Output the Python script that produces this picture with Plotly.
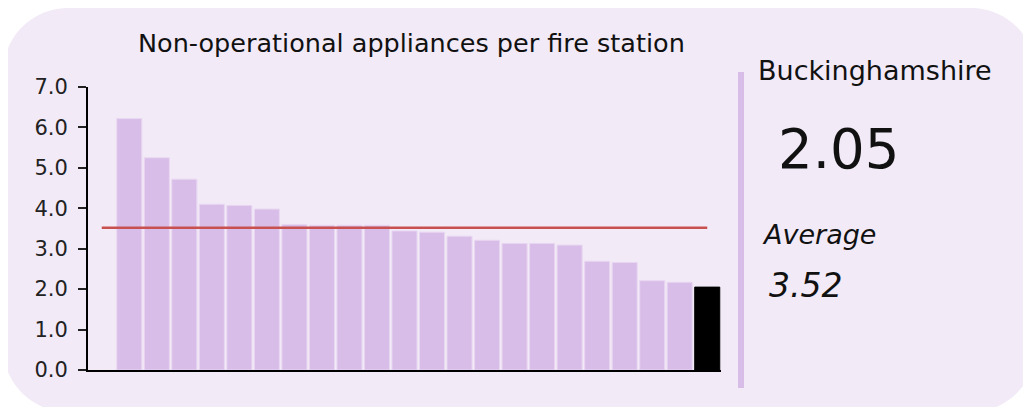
import plotly.graph_objects as go

# ---- data ----
services = [f"Service {i}" for i in range(1, 22)] + ["Buckinghamshire"]
values = [6.22, 5.25, 4.72, 4.10, 4.07, 3.98, 3.60, 3.58, 3.58, 3.58, 3.44,
          3.41, 3.31, 3.21, 3.13, 3.13, 3.09, 2.69, 2.66, 2.21, 2.17, 2.05]
highlight = "Buckinghamshire"
average = 3.52
title_text = "Non-operational appliances per fire station"
y_ticks = [0, 1, 2, 3, 4, 5, 6, 7]

# ---- layout geometry (screen pixels; page has an 8px body offset) ----
W, H = 1031, 407
OFF = 8
L, R, T, B = 88, 721, 87, 370  # screen coords of plot area

def px(x):
    return (x - L) / (R - L)

def py(y):
    return (B - y) / (B - T)

BAR = "#d9bde9"
PANEL = "#f2eaf7"

colors = ["#000000" if s == highlight else BAR for s in services]
lines = ["#000000" if s == highlight else "#e8d7f1" for s in services]

fig = go.Figure()
fig.add_trace(go.Bar(
    x=services, y=values,
    marker=dict(color=colors, line=dict(color=lines, width=1)),
    hoverinfo="x+y",
))

# rounded background panel
x0, x1, y0, y1, r = 3, 1036, 8, 412, 65
k = 0.5523 * r
def P(x, y):
    return f"{px(x):.5f},{py(y):.5f}"
path = (
    f"M {P(x0 + r, y0)} L {P(x1 - r, y0)} "
    f"C {P(x1 - r + k, y0)} {P(x1, y0 + r - k)} {P(x1, y0 + r)} "
    f"L {P(x1, y1 - r)} "
    f"C {P(x1, y1 - r + k)} {P(x1 - r + k, y1)} {P(x1 - r, y1)} "
    f"L {P(x0 + r, y1)} "
    f"C {P(x0 + r - k, y1)} {P(x0, y1 - r + k)} {P(x0, y1 - r)} "
    f"L {P(x0, y0 + r)} "
    f"C {P(x0, y0 + r - k)} {P(x0 + r - k, y0)} {P(x0 + r, y0)} Z"
)
shapes = [
    dict(type="path", xref="paper", yref="paper", path=path,
         fillcolor=PANEL, line=dict(width=0), layer="below"),
    dict(type="line", xref="x", yref="y", x0=-1, x1=len(values) - 1,
         y0=average, y1=average, line=dict(color="#c8504e", width=2.5)),
    dict(type="line", xref="paper", yref="paper", x0=px(741), x1=px(741),
         y0=py(72), y1=py(388), line=dict(color=BAR, width=6)),
]

FONT = "Verdana, DejaVu Sans, sans-serif"

def ann(text, x, y, size, italic=False):
    return dict(text=f"<i>{text}</i>" if italic else text,
                xref="paper", yref="paper", x=px(x), y=py(y),
                xanchor="left", yanchor="middle", showarrow=False,
                font=dict(family=FONT, size=size, color="#111111"))

annotations = [
    ann(title_text, 136, 42.8, 25.5),
    ann(highlight, 756, 70.0, 27),
    ann(f"{values[-1]:.2f}", 776, 148.8, 54.5),
    ann("Average", 760, 235.0, 27, italic=True),
    ann(f"{average:.2f}", 767, 285.5, 33, italic=True),
]

fig.update_layout(
    width=W, height=H,
    margin=dict(l=L - OFF, r=W - (R - OFF), t=T - OFF, b=H - (B - OFF), pad=0),
    paper_bgcolor="white",
    plot_bgcolor="rgba(0,0,0,0)",
    showlegend=False,
    bargap=0.09,
    shapes=shapes,
    annotations=annotations,
    font=dict(family=FONT, color="#111111"),
    xaxis=dict(range=[-1.5, len(values) - 0.5], showticklabels=False,
               ticks="", showgrid=False, zeroline=False,
               showline=True, linecolor="#000000", linewidth=2),
    yaxis=dict(range=[0, 7], tickvals=y_ticks, tickformat=".1f",
               ticks="outside", ticklen=8, tickwidth=1.5, tickcolor="#222222",
               ticklabelstandoff=6,
               tickfont=dict(size=21, family=FONT, color="#222222"),
               showgrid=False, zeroline=False,
               showline=True, linecolor="#000000", linewidth=2),
)

fig.write_html("out.html")
